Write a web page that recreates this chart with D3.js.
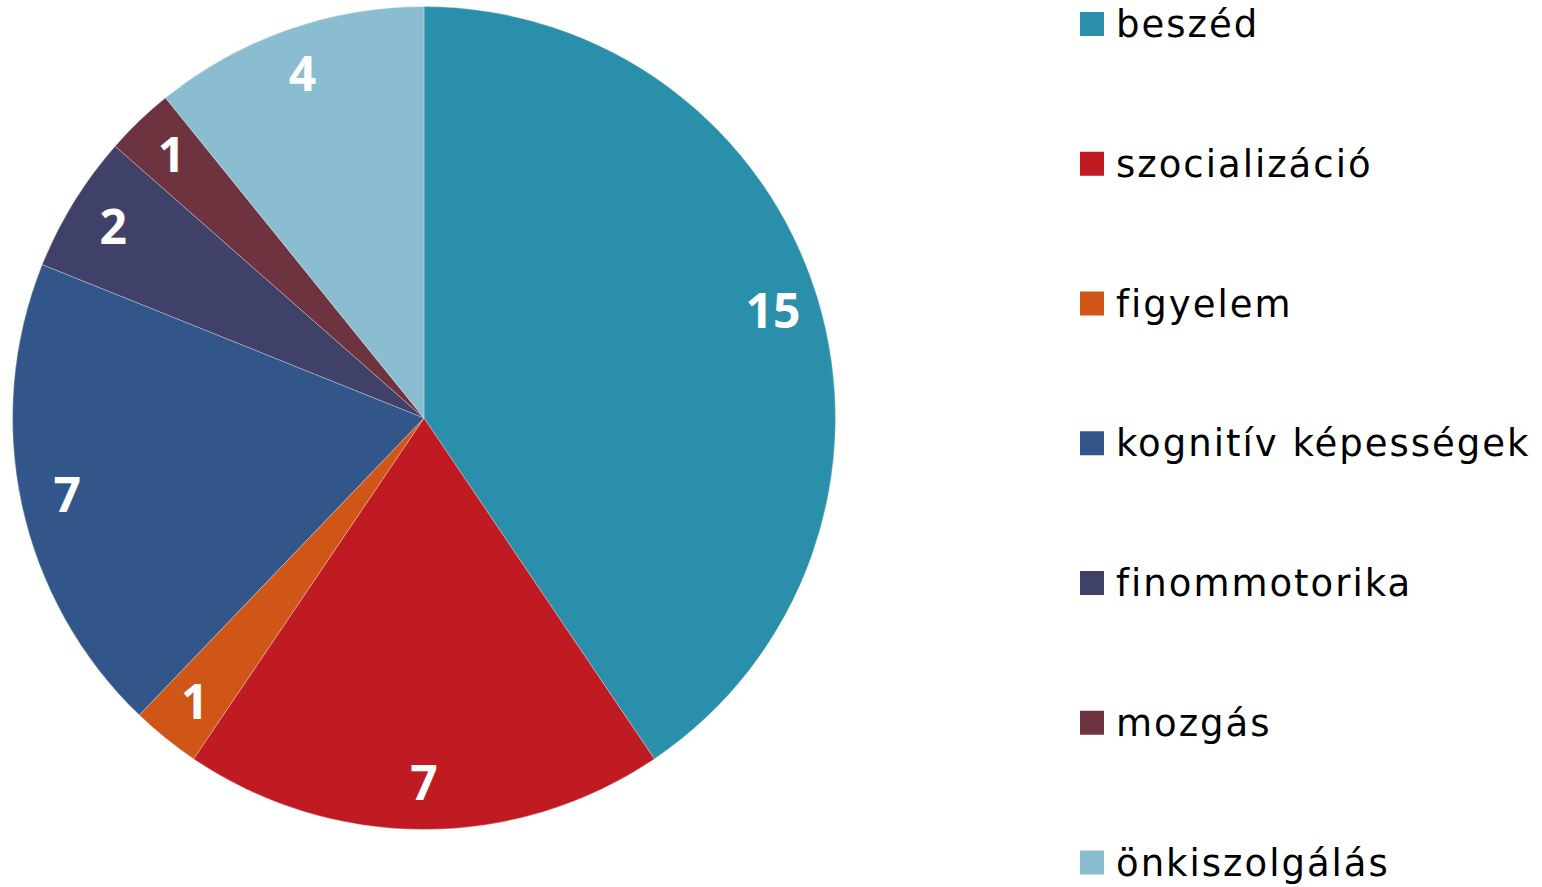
<!DOCTYPE html>
<html><head><meta charset="utf-8">
<script src="https://cdn.jsdelivr.net/npm/d3@7"></script>
<style>html,body{margin:0;padding:0;background:#fff;}svg{display:block;}</style>
</head><body>
<svg id="chart" width="1542" height="887"></svg>
<script>
const categories = ["beszéd","szocializáció","figyelem","kognitív képességek","finommotorika","mozgás","önkiszolgálás"];
const values = [15,7,1,7,2,1,4];
const colors = ["#2A8FAA","#C01A22","#D05617","#33568A","#3F4169","#6D3440","#8ABDD0"];

const svg = d3.select("#chart");
const cx = 424, cy = 418, R = 411.5, labelR = 365;
const data = categories.map((c,i)=>({cat:c, value:values[i], color:colors[i]}));
const pie = d3.pie().value(d=>d.value).sort(null);
const arcs = pie(data);
const arc = d3.arc().innerRadius(0).outerRadius(R);
const labelArc = d3.arc().innerRadius(labelR).outerRadius(labelR);

const g = svg.append("g").attr("transform",`translate(${cx},${cy})`);
g.selectAll("path").data(arcs).join("path")
  .attr("d",arc).attr("fill",d=>d.data.color)
  .attr("stroke","#ffffff").attr("stroke-width",0.6).attr("stroke-opacity",0.5);
g.selectAll("text").data(arcs).join("text")
  .attr("transform",d=>`translate(${labelArc.centroid(d)})`)
  .attr("text-anchor","middle").attr("dy","0.357em")
  .attr("font-family","'Open Sans', sans-serif").attr("font-weight",700)
  .attr("font-size",48).attr("fill","#fff")
  .text(d=>d.data.value);

const color = d3.scaleOrdinal().domain(categories).range(colors);
const ly = d3.scalePoint().domain(categories).range([24,862.5]);
const leg = svg.append("g");
const items = leg.selectAll("g").data(categories).join("g")
  .attr("transform",d=>`translate(1080,${ly(d)})`);
items.append("rect").attr("x",0).attr("y",-12).attr("width",24).attr("height",24).attr("fill",d=>color(d));
items.append("text").attr("x",36).attr("y",13)
  .attr("font-family","'DejaVu Sans', sans-serif").attr("font-size",37).attr("letter-spacing",2)
  .attr("fill","#000")
  .text(d=>d);
</script>
</body></html>
